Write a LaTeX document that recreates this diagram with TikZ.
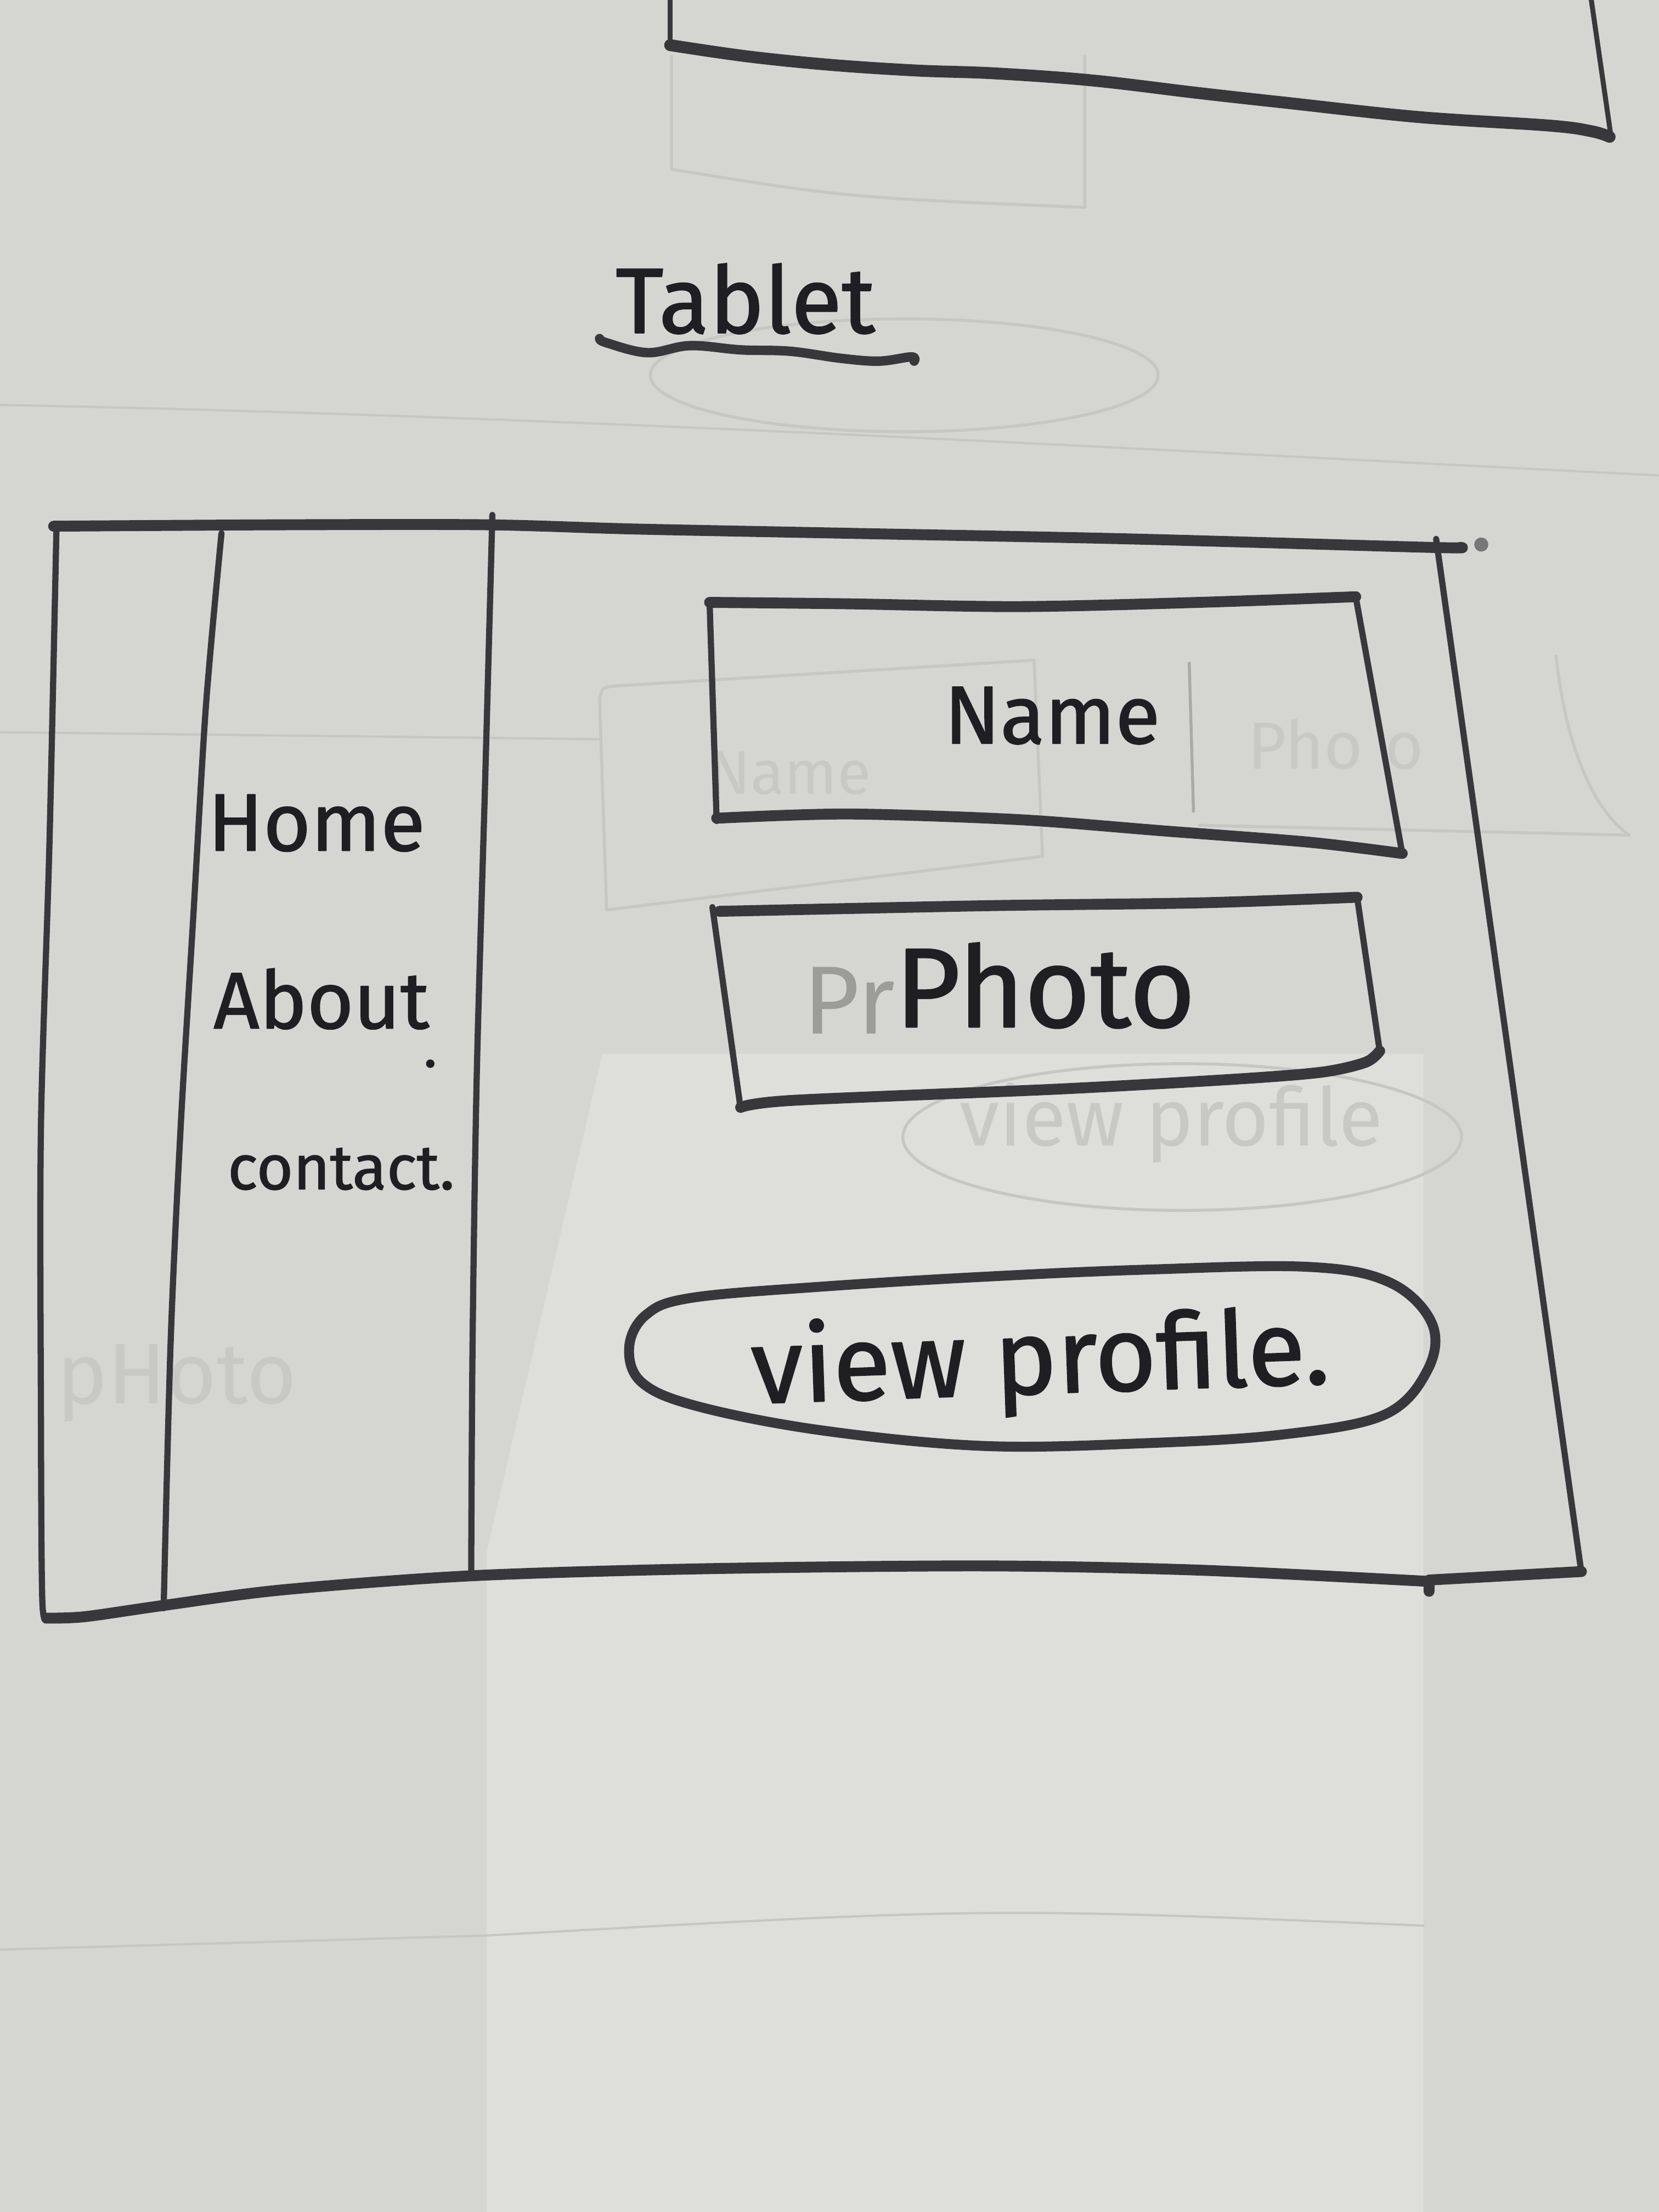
\documentclass[tikz,border=0pt]{standalone}
\usepackage{fontspec}
\setmainfont{Fira Sans}
\newfontfamily\hand{Fira Sans}[FakeBold=1.2]
\definecolor{paper}{HTML}{D5D6D2}
\definecolor{paperlight}{HTML}{DEDFDB}
\definecolor{ink}{HTML}{38383C}
\definecolor{inktext}{HTML}{1F1F23}
\definecolor{ghost}{HTML}{C6C7C3}
\definecolor{ghosttext}{HTML}{C8C9C5}
\definecolor{pencil}{HTML}{9C9D99}
\begin{document}
\begin{tikzpicture}[x=0.02cm, y=-0.02cm, line cap=round, line join=round,
  hline/.style={draw=ink, line width=4.4pt},
  vline/.style={draw=ink, line width=2.5pt},
  ghostline/.style={draw=ghost, line width=1.2pt},
  word/.style={text=inktext, inner sep=0pt, anchor=base west, font=\hand},
  ghostword/.style={text=ghosttext, inner sep=0pt, anchor=base west}]

% paper sheet
\fill[paper] (0,0) rectangle (1176,1568);
\fill[paperlight] (427,747) -- (1009,747) -- (1009,1568) -- (345,1568) -- (345,1100) -- cycle;
\useasboundingbox (0,0) rectangle (1176,1568);

% show-through from the back of the sheet
\draw[ghostline] (476,40) -- (476,120) .. controls (600,140) .. (769,147) -- (769,40);
\draw[ghostline] (641,266) ellipse [x radius=180, y radius=40];
\draw[ghostline, line width=0.9pt] (0,287) .. controls (400,295) and (800,318) .. (1176,337);
\draw[ghostline] (430,645) -- (425,495) .. controls (427,487) .. (440,486) -- (733,468) -- (739,607) -- cycle;
\draw[ghostline, draw=ghost!80!ink] (843,470) -- (846,575);
\draw[ghostline] (1103,465) .. controls (1110,530) and (1130,575) .. (1155,592) -- (850,585);
\draw[ghostline, line width=0.9pt] (0,519) -- (425,524);
\draw[ghostline] (838,806) ellipse [x radius=198, y radius=52];
\draw[ghostline, line width=0.9pt] (0,1382) -- (345,1372) .. controls (700,1352) .. (1009,1365);
\node[ghostword] (gname) at (502,563) {\resizebox{2.3cm}{!}{Name}};
\node[ghostword] (gphoto) at (884,545) {\resizebox{2.5cm}{!}{Pho\,\,o}};
\node[ghostword] (gview) at (680,812) {\resizebox{6cm}{!}{view profile}};
\node[ghostword] (gphoto2) at (40,995) {\resizebox{3.4cm}{!}{pHoto}};

% previous sketch, cut by the top edge
\draw[vline, line width=2pt] (475,0) -- (475,32);
\draw[hline, line width=4.8pt] plot[smooth, tension=0.6] coordinates {(475,32) (530,40) (589,46) (650,50) (705,52) (774,57) (850,66) (913,73) (1006,83) (1098,89) (1128,93) (1141,97)};
\draw[vline, line width=2pt] (1128,0) -- (1142,97);

% heading
\node[word] (title) at (436,236) {\resizebox{3.68cm}{!}{Tablet}};
\draw[hline, line width=3.8pt] plot[smooth, tension=0.6] coordinates {(425,240) (430,243) (459,250) (489,245) (525,248) (560,249) (596,254) (623,256) (646,253) (648,256)};

% tablet frame
\draw[hline] plot[smooth, tension=0.5] coordinates {(38,373) (200,372) (345,372) (450,375) (600,378) (800,382) (1013,388) (1035,388)};
\fill[ink!60!paper] (1050,386) circle (5);
\draw[vline] (1018,382) -- (1121,1115);
\draw[hline] plot[smooth, tension=0.5] coordinates {(33,1147) (60,1146) (116,1138) (200,1127) (334,1117) (500,1112) (698,1110) (850,1113) (1013,1121)};
\draw[hline] (1013,1128) -- (1013,1120) -- (1121,1114);
\draw[vline] plot[smooth, tension=0.5] coordinates {(40,375) (35,600) (29,800) (29,1000) (30,1135) (34,1147)};

% navigation column
\draw[vline] plot[smooth, tension=0.5] coordinates {(157,378) (146,500) (137,650) (128,800) (121,950) (116,1140)};
\draw[vline] plot[smooth, tension=0.5] coordinates {(349,365) (344,550) (338,760) (335,950) (334,1117)};
\node[word] (home) at (147,603) {\resizebox{3.08cm}{!}{Home}};
\node[word] (about) at (151,729) {\resizebox{3.06cm}{!}{About}};
\fill[inktext] (305,754) circle (3);
\node[word] (contact) at (161,843) {\resizebox{3.22cm}{!}{contact.}};

% name box
\draw[hline] plot[smooth, tension=0.5] coordinates {(503,427) (600,428) (722,430) (850,427) (961,423)};
\draw[vline] (503,427) -- (508,582);
\draw[vline] (961,423) -- (994,605);
\draw[hline] plot[smooth, tension=0.5] coordinates {(508,580) (601,577) (722,581) (825,589) (928,597) (994,605)};
\node[word] (name) at (669,527) {\resizebox{3.06cm}{!}{Name}};

% photo box
\draw[hline] plot[smooth, tension=0.5] coordinates {(510,646) (700,642) (850,640) (962,636)};
\draw[vline] (505,643) -- (525,786);
\draw[vline] (962,636) -- (978,745);
\draw[hline] plot[smooth, tension=0.5] coordinates {(525,785) (562,780) (750,772) (875,765) (937,760) (968,753) (978,745)};
\node[text=pencil, inner sep=0pt, anchor=base west] (pr) at (569,733) {\resizebox{1.3cm}{!}{Pr}};
\node[word] (photo) at (634,728) {\resizebox{4.26cm}{!}{Photo}};

% button
\draw[hline, line width=4pt] plot[smooth cycle, tension=0.6] coordinates {(446,955) (458,932) (490,920) (583,912) (698,905) (812,900) (927,898) (985,909) (1015,938) (1012,971) (981,1003) (908,1017) (812,1023) (698,1025) (583,1014) (495,997) (455,980)};
\node[word, rotate=2] (view) at (533,995) {\resizebox{8.2cm}{!}{view profile.}};

\end{tikzpicture}
\end{document}
